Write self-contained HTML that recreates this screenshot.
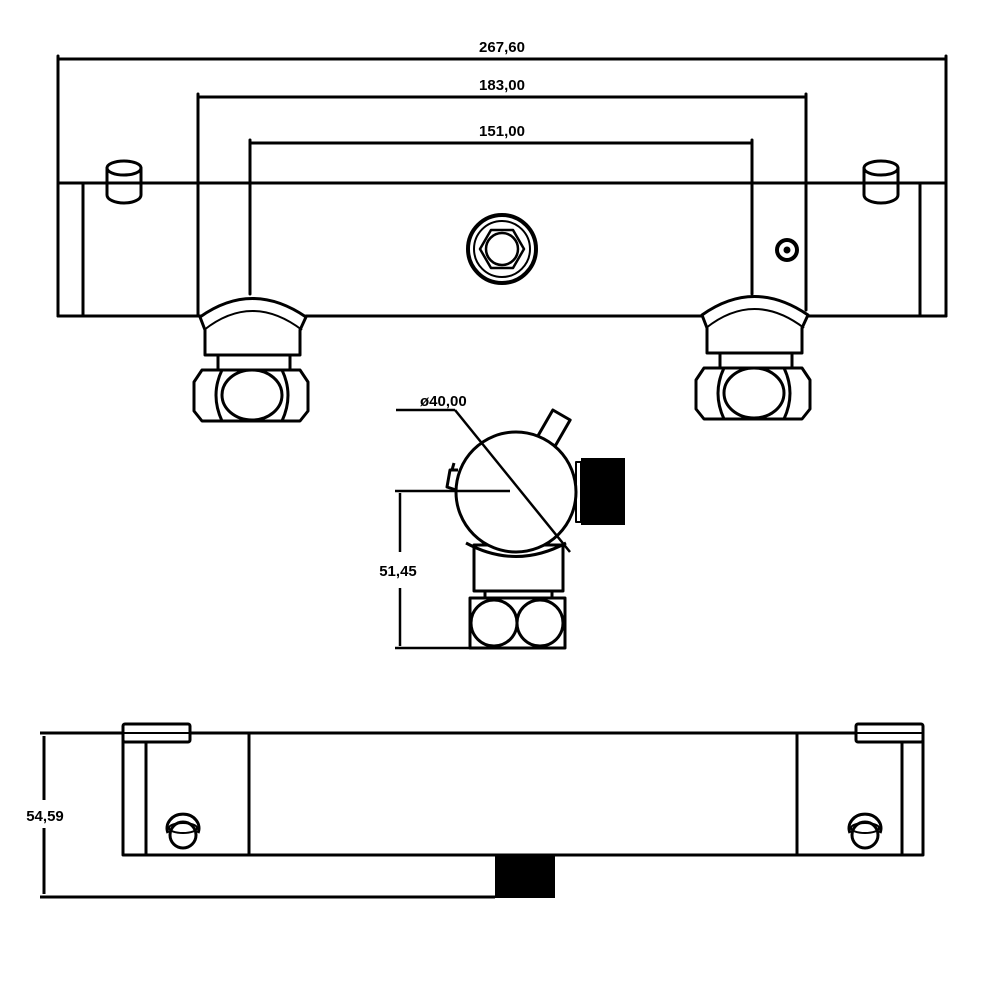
<!DOCTYPE html>
<html><head><meta charset="utf-8"><style>
html,body{margin:0;padding:0;background:#fff;}
svg{display:block}
text{font-family:"Liberation Sans",sans-serif;font-weight:bold;font-size:15px;fill:#000}
</style></head><body>
<svg width="1000" height="1000" viewBox="0 0 1000 1000" xmlns="http://www.w3.org/2000/svg">
<rect width="1000" height="1000" fill="#fff"/>
<g fill="none" stroke="#000" stroke-width="3" stroke-linecap="round" stroke-linejoin="round">
<!-- dimension lines top -->
<line x1="58" y1="59" x2="946" y2="59"/>
<line x1="58" y1="56" x2="58" y2="316"/>
<line x1="946" y1="56" x2="946" y2="316"/>
<line x1="198" y1="97" x2="806" y2="97"/>
<line x1="198" y1="94" x2="198" y2="316"/>
<line x1="806" y1="94" x2="806" y2="310"/>
<line x1="250" y1="143" x2="752" y2="143"/>
<line x1="250" y1="140" x2="250" y2="294"/>
<line x1="752" y1="140" x2="752" y2="294"/>
<!-- body -->
<line x1="58" y1="183" x2="946" y2="183"/>
<line x1="58" y1="316" x2="200" y2="316"/>
<line x1="306" y1="316" x2="702" y2="316"/>
<line x1="806" y1="316" x2="946" y2="316"/>
<line x1="83" y1="183" x2="83" y2="316"/>
<line x1="920" y1="183" x2="920" y2="316"/>
<!-- pegs -->
<g>
<path d="M107 168 L107 195 A17 8 0 0 0 141 195 L141 168"/>
<ellipse cx="124" cy="168" rx="17" ry="7" fill="#fff"/>
</g>
<g>
<path d="M864 168 L864 195 A17 8 0 0 0 898 195 L898 168"/>
<ellipse cx="881" cy="168" rx="17" ry="7" fill="#fff"/>
</g>
<!-- knob -->
<circle cx="502" cy="249" r="34" stroke-width="4"/>
<circle cx="502" cy="249" r="28" stroke-width="2"/>
<polygon points="524,249 513,268 491,268 480,249 491,230 513,230" stroke-width="2.5"/>
<circle cx="502" cy="249" r="16" stroke-width="2.5"/>
<circle cx="787" cy="250" r="10" stroke-width="4"/>
<circle cx="787" cy="250" r="2" fill="#000"/>
</g>
<!-- fittings top view -->
<g id="fit" fill="none" stroke="#000" stroke-width="3" stroke-linejoin="round">
<path d="M200 317 Q252 280 306 317 L300 330 L300 355 L205 355 L205 330 Z" fill="#fff"/>
<path d="M204 330 Q252 292 302 330" stroke-width="2"/>
<rect x="218" y="355" width="72" height="15"/>
<path d="M202 370 L300 370 L308 382 L308 411 L300 421 L202 421 L194 411 L194 382 Z"/>
<ellipse cx="252" cy="395" rx="30" ry="25"/>
<path d="M222 370 Q210 395 222 421" />
<path d="M282 370 Q294 395 282 421" />
</g>
<use href="#fit" transform="translate(502,-2)"/>
<!-- dimension labels -->
<text x="502" y="52" text-anchor="middle">267,60</text>
<text x="502" y="90" text-anchor="middle">183,00</text>
<text x="502" y="136" text-anchor="middle">151,00</text>

<!-- middle view -->
<g fill="none" stroke="#000" stroke-width="3" stroke-linejoin="round">
<rect x="474" y="545" width="89" height="46" fill="#fff"/>
<path d="M470 598 L565 598 L565 648 L470 648 Z"/>
<circle cx="494" cy="623" r="23"/>
<circle cx="540" cy="623" r="23"/>
<line x1="485" y1="591" x2="485" y2="598"/>
<line x1="552" y1="591" x2="552" y2="598"/>
<rect x="539" y="418" width="30" height="20" transform="rotate(-60 554 428)" fill="#fff"/>
<path d="M466 543 Q516 570 566 543" />
<circle cx="516" cy="492" r="60" fill="#fff"/>
<path d="M458 470 L450 470 L447 487 L456 490" />
<path d="M454 463 L452 470" />
<line x1="396" y1="410" x2="455" y2="410" stroke-width="2.5"/>
<line x1="455" y1="410" x2="570" y2="552" stroke-width="2.5"/>
<line x1="395" y1="491" x2="510" y2="491" stroke-width="2.5"/>
<line x1="395" y1="648" x2="470" y2="648" stroke-width="2.5"/>
<line x1="400" y1="493" x2="400" y2="552" stroke-width="2.5"/>
<line x1="400" y1="588" x2="400" y2="646" stroke-width="2.5"/>
<rect x="576" y="462" width="5" height="60" stroke-width="2"/>
</g>
<rect x="581" y="458" width="44" height="67" fill="#000"/>
<text x="420" y="406" font-size="13">ø40,00</text>
<text x="398" y="576" text-anchor="middle">51,45</text>

<!-- bottom view -->
<g fill="none" stroke="#000" stroke-width="3" stroke-linejoin="round">
<line x1="40" y1="733" x2="123" y2="733"/>
<line x1="40" y1="897" x2="495" y2="897"/>
<line x1="44" y1="736" x2="44" y2="800"/>
<line x1="44" y1="828" x2="44" y2="894"/>
<path d="M123 733 L923 733 M123 733 L123 855 L923 855 L923 733"/>
<line x1="146" y1="742" x2="146" y2="855"/>
<line x1="249" y1="733" x2="249" y2="855"/>
<line x1="797" y1="733" x2="797" y2="855"/>
<line x1="902" y1="742" x2="902" y2="855"/>
<rect x="123" y="724" width="67" height="18" rx="2" fill="#fff"/>
<line x1="123" y1="733" x2="190" y2="733" stroke-width="2"/>
<rect x="856" y="724" width="67" height="18" rx="2" fill="#fff"/>
<line x1="856" y1="733" x2="923" y2="733" stroke-width="2"/>
<path d="M168 833 A16 14 0 1 1 198 833"/>
<circle cx="183" cy="835" r="13"/>
<ellipse cx="183" cy="828" rx="14" ry="5" stroke-width="2"/>
<path d="M850 833 A16 14 0 1 1 880 833"/>
<circle cx="865" cy="835" r="13"/>
<ellipse cx="865" cy="828" rx="14" ry="5" stroke-width="2"/>
</g>
<rect x="495" y="855" width="60" height="43" fill="#000"/>
<text x="45" y="821" text-anchor="middle" fill="#000" style="paint-order:stroke" stroke="#fff" stroke-width="4">54,59</text>
</svg>
</body></html>
